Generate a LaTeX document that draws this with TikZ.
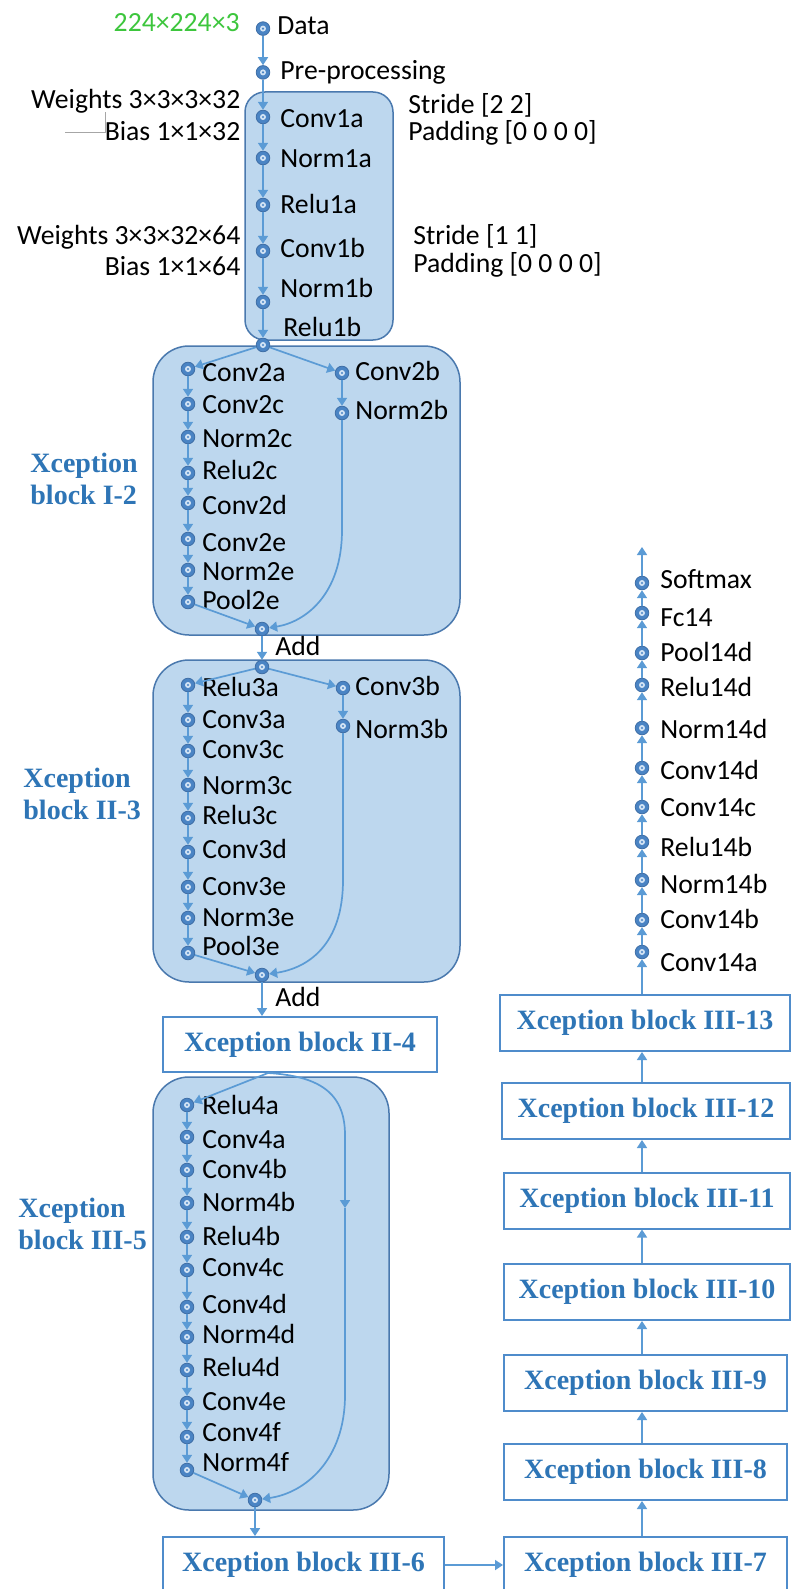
\documentclass[tikz,border=0pt]{standalone}
\usepackage{fontspec}
\setmainfont{Carlito}
\newfontfamily\tnr{Liberation Serif}
\usetikzlibrary{arrows.meta}
\definecolor{lineblue}{HTML}{5B9BD5}
\definecolor{ringblue}{HTML}{4A84C4}
\definecolor{ringedge}{HTML}{3E6EA6}
\definecolor{ringin}{HTML}{D3E4F5}
\definecolor{contfill}{HTML}{BDD7EE}
\definecolor{contdraw}{HTML}{4A79AE}
\definecolor{labblue}{HTML}{2E75B6}
\definecolor{boxline}{HTML}{4F8CCB}
\definecolor{dimgreen}{HTML}{3DC63D}
\begin{document}
\begin{tikzpicture}[x=0.5pt,y=0.5pt,
  lay/.style={circle, minimum size=6.8pt, inner sep=0pt, fill=ringblue, draw=ringedge, line width=0.4pt,
    path picture={\fill[ringin] (path picture bounding box.center) circle[radius=1.5pt];
                  \fill[ringblue] (path picture bounding box.center) circle[radius=0.6pt];}},
  lbl/.style={anchor=base west, inner sep=0pt, font=\fontsize{13.85}{16}\selectfont},
  lblr/.style={anchor=base east, inner sep=0pt, font=\fontsize{13.85}{16}\selectfont},
  arr/.style={draw=lineblue, line width=0.85pt, -{Triangle[length=4pt,width=5pt]}},
  cont/.style={fill=contfill, draw=contdraw, line width=0.75pt},
  xbox/.style={draw=boxline, line width=1pt, fill=white, inner sep=0pt, text=labblue,
    font=\tnr\bfseries\fontsize{14}{16}\selectfont, text height=0.7em, text depth=0.05em},
  side/.style={anchor=west, align=left, inner sep=0pt, text=labblue,
    font=\tnr\bfseries\fontsize{14}{16.2}\selectfont}]
\fill[white] (0,0) rectangle (792,-1589);
\useasboundingbox (0,0) rectangle (792,-1589);

% rounded containers of the stem and of the three expanded blocks
\filldraw[cont, rounded corners=10pt] (245,-92) rectangle (393,-340);
\filldraw[cont, rounded corners=18pt] (153,-346) rectangle (460,-635);
\filldraw[cont, rounded corners=18pt] (153,-660) rectangle (460,-982);
\filldraw[cont, rounded corners=18pt] (153,-1077) rectangle (389,-1510);

% input and stem
\node[lay] (data) at (263,-28.6) {};
\node[lbl] (datat) at (277,-35) {Data};
\node[lblr, text=dimgreen] (dims) at (240,-31.6) {224×224×3};
\node[lay] (pre) at (263,-72.4) {};
\node[lbl] (pret) at (280,-80) {Pre-processing};
\foreach \nm/\cy/\tx/\by in {c1a/117/Conv1a/127.5, n1a/158/Norm1a/168, r1a/205/Relu1a/214,
    c1b/251/Conv1b/257, n1b/302/Norm1b/298}{
  \node[lay] (\nm) at (263,-\cy) {};
  \node[lbl] (\nm t) at (280,-\by) {\tx};
}
\node[lay] (r1b) at (263,-345) {};
\node[lbl] (r1bt) at (283,-336) {Relu1b};

% layer parameters
\node[lblr] (w1) at (240.7,-109) {Weights 3×3×3×32};
\node[lblr] (b1) at (240.7,-141) {Bias 1×1×32};
\node[lblr] (w2) at (240.7,-245) {Weights 3×3×32×64};
\node[lblr] (b2) at (240.7,-276) {Bias 1×1×64};
\node[lbl] (s1) at (408,-114) {Stride [2 2]};
\node[lbl] (p1) at (408,-141) {Padding [0 0 0 0]};
\node[lbl] (s2) at (413,-245) {Stride [1 1]};
\node[lbl] (p2) at (413,-272) {Padding [0 0 0 0]};
\draw[gray!70, line width=0.5pt] (65,-133) -- (105,-133) -- (105,-112);

% block I-2
\foreach \nm/\cy/\tx/\by in {c2a/369/Conv2a/381, c2c/404/Conv2c/413, n2c/437/Norm2c/447,
    r2c/473/Relu2c/479, c2d/503/Conv2d/514, c2e/539/Conv2e/551, n2e/570/Norm2e/580, p2e/602/Pool2e/609}{
  \node[lay] (\nm) at (188,-\cy) {};
  \node[lbl] (\nm t) at (202,-\by) {\tx};
}
\node[lay] (c2b) at (342,-373) {};
\node[lbl] (c2bt) at (355,-380) {Conv2b};
\node[lay] (n2b) at (342,-413) {};
\node[lbl] (n2bt) at (355,-419) {Norm2b};
\node[lay] (add2) at (262,-629) {};
\node[lbl] (add2t) at (275,-655) {Add};
\node[side] (lab2) at (30,-479) {Xception\\block I-2};

% block II-3
\node[lay] (top3) at (262,-667) {};
\foreach \nm/\cy/\tx/\by in {r3a/685/Relu3a/696, c3a/720/Conv3a/728, c3c/751/Conv3c/758,
    n3c/785/Norm3c/794, r3c/818/Relu3c/824, c3d/852/Conv3d/858, c3e/887/Conv3e/895,
    n3e/918/Norm3e/926, p3e/953/Pool3e/955}{
  \node[lay] (\nm) at (188,-\cy) {};
  \node[lbl] (\nm t) at (202,-\by) {\tx};
}
\node[lay] (c3b) at (343,-688) {};
\node[lbl] (c3bt) at (355,-695) {Conv3b};
\node[lay] (n3b) at (343,-726) {};
\node[lbl] (n3bt) at (355,-738) {Norm3b};
\node[lay] (add3) at (262,-975) {};
\node[lbl] (add3t) at (275,-1006) {Add};
\node[side] (lab3) at (23,-794) {Xception\\block II-3};

% collapsed block II-4
\node[xbox, minimum width=137pt, minimum height=27.5pt] (ii4) at (300,-1044.5) {Xception block II-4};

% block III-5
\foreach \nm/\cy/\tx/\by in {r4a/1105/Relu4a/1114, c4a/1137/Conv4a/1148, c4b/1170/Conv4b/1178,
    n4b/1203/Norm4b/1211, r4b/1237/Relu4b/1245, c4c/1270/Conv4c/1276, c4d/1307/Conv4d/1313,
    n4d/1337/Norm4d/1343, r4d/1370/Relu4d/1376, c4e/1403/Conv4e/1410, c4f/1437/Conv4f/1441,
    n4f/1470/Norm4f/1471}{
  \node[lay] (\nm) at (187,-\cy) {};
  \node[lbl] (\nm t) at (202,-\by) {\tx};
}
\node[lay] (add4) at (255,-1500) {};
\node[side] (lab4) at (18,-1224) {Xception\\block III-5};

% collapsed blocks III-6 ... III-13
\node[xbox, minimum width=140.5pt, minimum height=28pt] (b6) at (303.5,-1565) {Xception block III-6};
\node[xbox, minimum width=141.5pt, minimum height=28pt] (b7) at (645.5,-1565) {Xception block III-7};
\node[xbox, minimum width=141.5pt, minimum height=28pt] (b8) at (645.5,-1472) {Xception block III-8};
\node[xbox, minimum width=141.5pt, minimum height=28pt] (b9) at (645.5,-1383) {Xception block III-9};
\node[xbox, minimum width=143pt, minimum height=28pt] (b10) at (647,-1292) {Xception block III-10};
\node[xbox, minimum width=143pt, minimum height=28pt] (b11) at (647,-1200.5) {Xception block III-11};
\node[xbox, minimum width=144pt, minimum height=28pt] (b12) at (646,-1111) {Xception block III-12};
\node[xbox, minimum width=145pt, minimum height=28pt] (b13) at (645,-1023) {Xception block III-13};

% exit flow
\foreach \nm/\cy/\tx/\by in {soft/583/Softmax/588, fc14/613/Fc14/626, p14d/653/Pool14d/661,
    r14d/685/Relu14d/696, n14d/728/Norm14d/738, c14d/768/Conv14d/779, c14c/807/Conv14c/816,
    r14b/842/Relu14b/856, n14b/880/Norm14b/893, c14b/920/Conv14b/928, c14a/952/Conv14a/971}{
  \node[lay] (\nm) at (642,-\cy) {};
  \node[lbl] (\nm t) at (660,-\by) {\tx};
}
\coordinate (out) at (642,-547);

% connectors
\foreach \a/\b in {data/pre, pre/c1a, c1a/n1a, n1a/r1a, r1a/c1b, c1b/n1b, n1b/r1b,
    r1b/c2a, r1b/c2b, c2a/c2c, c2c/n2c, n2c/r2c, r2c/c2d, c2d/c2e, c2e/n2e, n2e/p2e, p2e/add2,
    c2b/n2b, add2/top3,
    top3/r3a, top3/c3b, r3a/c3a, c3a/c3c, c3c/n3c, n3c/r3c, r3c/c3d, c3d/c3e, c3e/n3e, n3e/p3e, p3e/add3,
    c3b/n3b,
    r4a/c4a, c4a/c4b, c4b/n4b, n4b/r4b, r4b/c4c, c4c/c4d, c4d/n4d, n4d/r4d, r4d/c4e, c4e/c4f, c4f/n4f, n4f/add4,
    c14a/c14b, c14b/n14b, n14b/r14b, r14b/c14c, c14c/c14d, c14d/n14d, n14d/r14d, r14d/p14d,
    p14d/fc14, fc14/soft, soft/out}
  \draw[arr] (\a) -- (\b);

\draw[arr] (n2b) -- (342,-530) .. controls (342,-595) and (305,-622) .. (add2);
\draw[arr] (n3b) -- (343,-880) .. controls (343,-945) and (308,-968) .. (add3);
\draw[arr] (add3) -- (ii4.north -| add3);

\coordinate (br4) at (268,-1073);
\coordinate (mid4) at (345,-1208);
\draw[arr] (br4) -- (r4a);
\draw[arr] (br4) .. controls (318,-1076) and (345,-1092) .. (345,-1135) -- (mid4);
\draw[arr] (mid4) -- (345,-1395) .. controls (345,-1460) and (305,-1493) .. (add4);
\draw[arr] (add4) -- (b6.north -| add4);

\draw[arr] (b6.east) -- (b7.west);
\foreach \a/\b in {b7/b8, b8/b9, b9/b10, b10/b11, b11/b12, b12/b13}
  \draw[arr] (\a.north -| c14a) -- (\b.south -| c14a);
\draw[arr] (b13.north -| c14a) -- (c14a);
\end{tikzpicture}
\end{document}
